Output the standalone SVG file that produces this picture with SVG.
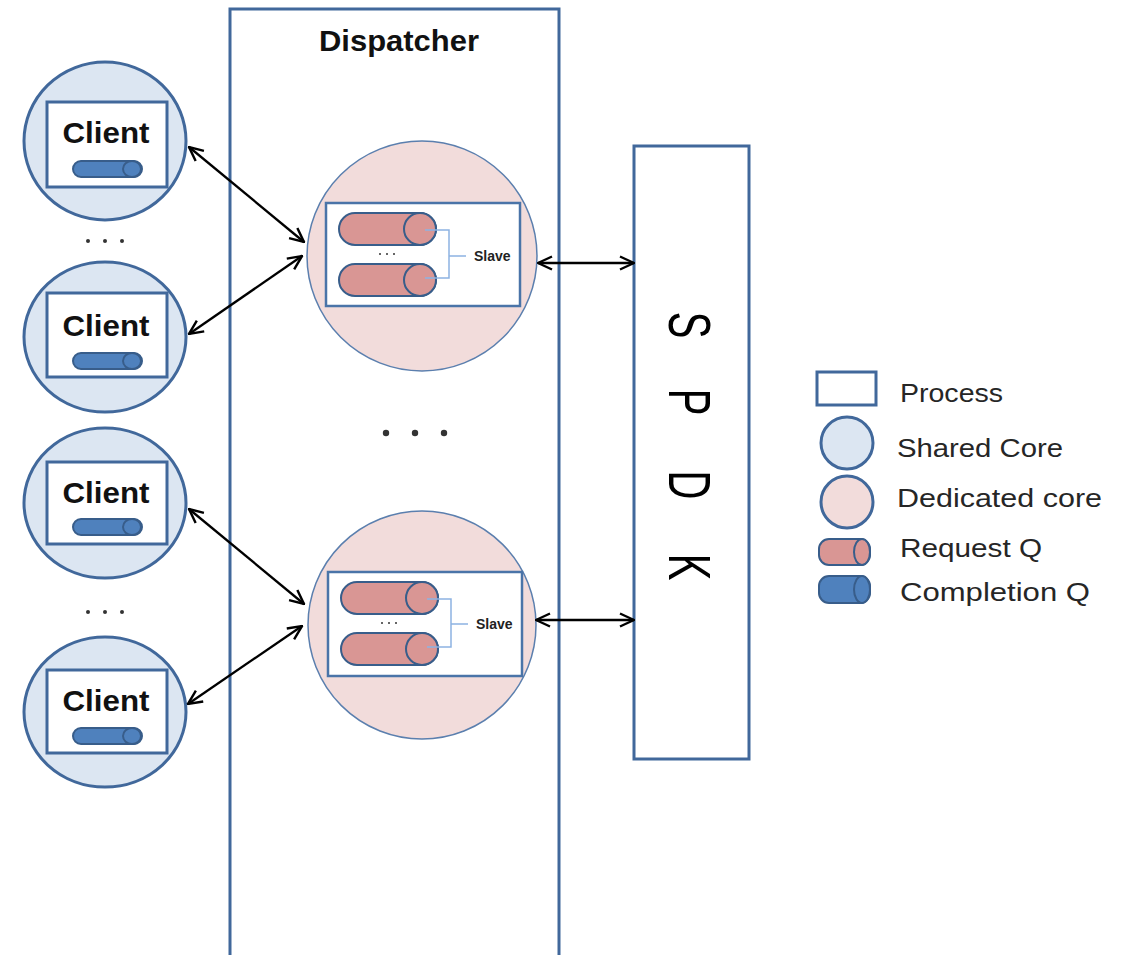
<svg xmlns="http://www.w3.org/2000/svg" width="1135" height="955" viewBox="0 0 1135 955">
<style>
  .proc { fill: #ffffff; stroke: #41689b; stroke-width: 3; }
  .shared { fill: #dce6f2; stroke: #41689b; stroke-width: 3; }
  .ded { fill: #f2dcdb; stroke: #5b7fae; stroke-width: 1.5; }
  .inner { fill: #ffffff; stroke: #4a74a8; stroke-width: 2.5; }
  .reqq { fill: #d99694; stroke: #385d8a; stroke-width: 2; }
  .compq { fill: #4f81bd; stroke: #385d8a; stroke-width: 2; }
  .brk { fill: none; stroke: #8db3e2; stroke-width: 1.5; }
  .client { font-family: "Liberation Sans", Arial, sans-serif; font-weight: bold; font-size: 30px; fill: #111; }
  .slave { font-family: "Liberation Sans", Arial, sans-serif; font-weight: bold; font-size: 14px; fill: #222; }
  .leg { font-family: "Liberation Sans", Arial, sans-serif; font-size: 26px; fill: #262626; }
  .spdk { font-family: "Liberation Sans", Arial, sans-serif; font-size: 40px; fill: #000; }
  .conn { stroke: #000; stroke-width: 2.3; fill: none; marker-start: url(#ah); marker-end: url(#ah); }
  .dot { fill: #333; }
</style>
<defs>
  <marker id="ah" viewBox="0 0 16 16" refX="15" refY="8" markerWidth="16" markerHeight="16" markerUnits="userSpaceOnUse" orient="auto-start-reverse">
    <path d="M1,1.5 L15,8 L1,14.5" fill="none" stroke="#000" stroke-width="2.4"/>
  </marker>
  <g id="cq">
    <rect x="0" y="0" width="69" height="16" rx="8" class="compq"/>
    <ellipse cx="59" cy="8" rx="9" ry="8" class="compq"/>
  </g>
  <g id="rq">
    <rect x="0" y="0" width="97" height="32" rx="16" class="reqq"/>
    <ellipse cx="81" cy="16" rx="16" ry="16" class="reqq"/>
  </g>
</defs>

<g id="dispatcher">
  <rect x="230" y="9" width="329" height="960" class="proc"/>
  <text x="399" y="51" text-anchor="middle" font-family="Liberation Sans, Arial, sans-serif" font-weight="bold" font-size="29" fill="#111" textLength="160" lengthAdjust="spacingAndGlyphs">Dispatcher</text>
  <circle cx="386" cy="433" r="3.2" class="dot"/>
  <circle cx="415" cy="433" r="3.2" class="dot"/>
  <circle cx="444" cy="433" r="3.2" class="dot"/>
</g>

<g id="client1">
  <ellipse cx="105" cy="141" rx="81" ry="79" class="shared"/>
  <rect x="47" y="102" width="120" height="85" class="proc"/>
  <text x="106" y="143" text-anchor="middle" class="client" textLength="87" lengthAdjust="spacingAndGlyphs">Client</text>
  <use href="#cq" x="73" y="161"/>
</g>
<g id="dots1">
  <circle cx="88" cy="241" r="2" class="dot"/>
  <circle cx="105" cy="241" r="2" class="dot"/>
  <circle cx="122" cy="241" r="2" class="dot"/>
</g>
<g id="client2">
  <ellipse cx="105" cy="337" rx="81" ry="75" class="shared"/>
  <rect x="47" y="293" width="120" height="84" class="proc"/>
  <text x="106" y="336" text-anchor="middle" class="client" textLength="87" lengthAdjust="spacingAndGlyphs">Client</text>
  <use href="#cq" x="73" y="353"/>
</g>
<g id="client3">
  <ellipse cx="105" cy="503" rx="81" ry="75" class="shared"/>
  <rect x="47" y="462" width="120" height="82" class="proc"/>
  <text x="106" y="503" text-anchor="middle" class="client" textLength="87" lengthAdjust="spacingAndGlyphs">Client</text>
  <use href="#cq" x="73" y="519"/>
</g>
<g id="dots2">
  <circle cx="88" cy="612" r="2" class="dot"/>
  <circle cx="105" cy="612" r="2" class="dot"/>
  <circle cx="122" cy="612" r="2" class="dot"/>
</g>
<g id="client4">
  <ellipse cx="105" cy="712" rx="81" ry="75" class="shared"/>
  <rect x="47" y="670" width="120" height="83" class="proc"/>
  <text x="106" y="711" text-anchor="middle" class="client" textLength="87" lengthAdjust="spacingAndGlyphs">Client</text>
  <use href="#cq" x="73" y="728"/>
</g>

<g id="core1">
  <circle cx="422" cy="256" r="115" class="ded"/>
  <rect x="326" y="203" width="194" height="103" class="inner"/>
  <use href="#rq" x="339" y="213"/>
  <use href="#rq" x="339" y="264"/>
  <circle cx="380" cy="254" r="1" class="dot"/>
  <circle cx="387" cy="254" r="1" class="dot"/>
  <circle cx="394" cy="254" r="1" class="dot"/>
  <path d="M425,230 H449 V278 H425 M449,256 H466" class="brk"/>
  <text x="474" y="261" class="slave">Slave</text>
</g>
<g id="core2">
  <circle cx="422" cy="625" r="114" class="ded"/>
  <rect x="328" y="572" width="194" height="104" class="inner"/>
  <use href="#rq" x="341" y="582"/>
  <use href="#rq" x="341" y="633"/>
  <circle cx="382" cy="623" r="1" class="dot"/>
  <circle cx="389" cy="623" r="1" class="dot"/>
  <circle cx="396" cy="623" r="1" class="dot"/>
  <path d="M427,599 H451 V647 H427 M451,624 H468" class="brk"/>
  <text x="476" y="629" class="slave">Slave</text>
</g>

<g id="spdk">
  <rect x="634" y="146" width="115" height="613" class="proc"/>
  <text class="spdk" transform="translate(669,325) rotate(90) scale(1,1.5)" text-anchor="middle">S</text>
  <text class="spdk" transform="translate(669,402) rotate(90) scale(1,1.5)" text-anchor="middle">P</text>
  <text class="spdk" transform="translate(669,485) rotate(90) scale(1,1.5)" text-anchor="middle">D</text>
  <text class="spdk" transform="translate(669,567) rotate(90) scale(1,1.5)" text-anchor="middle">K</text>
</g>

<g id="connectors">
  <line x1="189" y1="147" x2="304" y2="242" class="conn"/>
  <line x1="302" y1="256" x2="189" y2="334" class="conn"/>
  <line x1="189" y1="509" x2="304" y2="604" class="conn"/>
  <line x1="302" y1="626" x2="188" y2="704" class="conn"/>
  <line x1="538" y1="263" x2="634" y2="263" class="conn"/>
  <line x1="536" y1="620" x2="634" y2="620" class="conn"/>
</g>

<g id="legend">
  <rect x="817" y="372" width="59" height="33" class="proc"/>
  <text x="900" y="402" class="leg" textLength="103" lengthAdjust="spacingAndGlyphs">Process</text>
  <circle cx="847" cy="443" r="26" class="shared"/>
  <text x="897" y="457" class="leg" textLength="166" lengthAdjust="spacingAndGlyphs">Shared Core</text>
  <circle cx="847" cy="502" r="26" class="shared" style="fill:#f2dcdb"/>
  <text x="897" y="507" class="leg" textLength="205" lengthAdjust="spacingAndGlyphs">Dedicated core</text>
  <rect x="819" y="539" width="51" height="26" rx="10" class="reqq"/>
  <ellipse cx="862" cy="552" rx="8" ry="13" class="reqq"/>
  <text x="900" y="557" class="leg" textLength="142" lengthAdjust="spacingAndGlyphs">Request Q</text>
  <rect x="819" y="576" width="51" height="27" rx="10" class="compq"/>
  <ellipse cx="862" cy="589.5" rx="8" ry="13.5" class="compq"/>
  <text x="900" y="601" class="leg" textLength="190" lengthAdjust="spacingAndGlyphs">Completion Q</text>
</g>
</svg>
